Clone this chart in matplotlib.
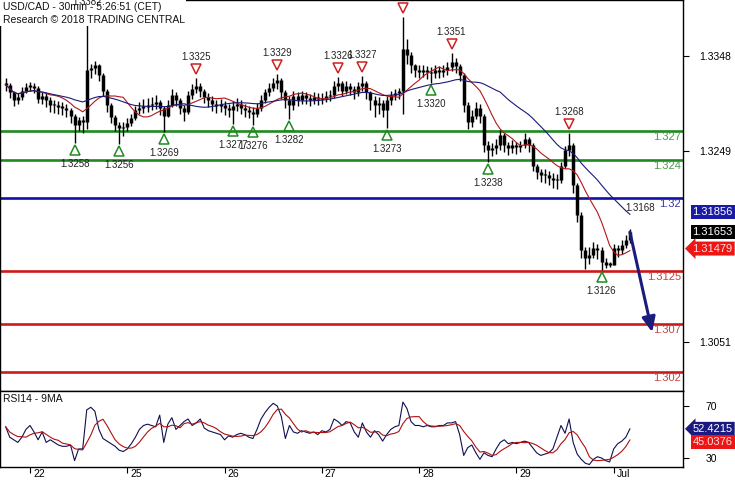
import numpy as np
import pandas as pd
import matplotlib
matplotlib.use('Agg')
import matplotlib.pyplot as plt
import matplotlib.transforms as mtransforms

plt.rcParams['font.family'] = ['Liberation Sans', 'DejaVu Sans']

# ---------------- data (hourly bars, hour 0 = start of 22 Jun) ----------------
start_hour = -6
closes = [1.3318, 1.3310, 1.3302, 1.3305, 1.3312, 1.3316,
          1.3317, 1.3315, 1.3303, 1.3306, 1.3302, 1.3297, 1.3297, 1.3295, 1.3294, 1.3292, 1.3286, 1.3276,
          1.3281, 1.3279, 1.3333, 1.3335, 1.3338, 1.3328, 1.3312, 1.3297, 1.3284, 1.3276, 1.3273, 1.3274,
          1.3278, 1.3283, 1.3292, 1.3294, 1.3295, 1.3297, 1.3298, 1.3300, 1.3294, 1.3286, 1.3297, 1.3307,
          1.3302, 1.3294, 1.3290, 1.3307, 1.3314, 1.3317, 1.3312, 1.3305, 1.3302, 1.3298, 1.3296, 1.3297,
          1.3294, 1.3292, 1.3296, 1.3298, 1.3294, 1.3292, 1.3290, 1.3288, 1.3294, 1.3302, 1.3310, 1.3315,
          1.3320, 1.3323, 1.3310, 1.3302, 1.3297, 1.3306, 1.3302, 1.3307, 1.3304, 1.3302, 1.3305, 1.3303,
          1.3304, 1.3306, 1.3307, 1.3317, 1.3320, 1.3312, 1.3317, 1.3314, 1.3310, 1.3317, 1.3320, 1.3310,
          1.3302, 1.3297, 1.3299, 1.3292, 1.3302, 1.3307, 1.3309, 1.3312, 1.3355, 1.3349, 1.3338, 1.3333,
          1.3331, 1.3333, 1.3331, 1.3330, 1.3333, 1.3331, 1.3333, 1.3336, 1.3342, 1.3337, 1.3328, 1.3297,
          1.3279, 1.3286, 1.3294, 1.3286, 1.3255, 1.3250, 1.3252, 1.3255, 1.3266, 1.3255, 1.3252, 1.3255,
          1.3253, 1.3255, 1.3262, 1.3255, 1.3234, 1.3227, 1.3224, 1.3224, 1.3221, 1.3219, 1.3219, 1.3234,
          1.3250, 1.3255, 1.3214, 1.3183, 1.3146, 1.3138, 1.3141, 1.3148, 1.3146, 1.3134, 1.3131, 1.3131,
          1.3148, 1.3146, 1.3152, 1.3157, 1.3165]
highs = [1.3325, 1.3320, 1.3312, 1.3309, 1.3316, 1.3320,
         1.3321, 1.3320, 1.3317, 1.3310, 1.3309, 1.3305, 1.3302, 1.3301, 1.3300, 1.3298, 1.3294, 1.3288,
         1.3285, 1.3286, 1.3382, 1.3340, 1.3343, 1.3340, 1.3330, 1.3314, 1.3299, 1.3287, 1.3279, 1.3279,
         1.3283, 1.3288, 1.3296, 1.3300, 1.3303, 1.3304, 1.3305, 1.3307, 1.3302, 1.3296, 1.3302, 1.3314,
         1.3310, 1.3304, 1.3297, 1.3312, 1.3319, 1.3325, 1.3320, 1.3314, 1.3309, 1.3306, 1.3302, 1.3303,
         1.3301, 1.3298, 1.3301, 1.3304, 1.3302, 1.3298, 1.3296, 1.3295, 1.3299, 1.3307, 1.3314, 1.3320,
         1.3325, 1.3329, 1.3325, 1.3313, 1.3306, 1.3312, 1.3310, 1.3312, 1.3310, 1.3308, 1.3310, 1.3309,
         1.3309, 1.3311, 1.3313, 1.3322, 1.3326, 1.3322, 1.3322, 1.3320, 1.3317, 1.3321, 1.3327, 1.3322,
         1.3312, 1.3306, 1.3305, 1.3302, 1.3306, 1.3312, 1.3314, 1.3315, 1.3388, 1.3366, 1.3352, 1.3340,
         1.3338, 1.3338, 1.3337, 1.3336, 1.3338, 1.3337, 1.3338, 1.3342, 1.3351, 1.3346, 1.3340, 1.3330,
         1.3300, 1.3292, 1.3300, 1.3298, 1.3288, 1.3260, 1.3258, 1.3262, 1.3271, 1.3268, 1.3259, 1.3261,
         1.3259, 1.3260, 1.3268, 1.3264, 1.3257, 1.3236, 1.3230, 1.3230, 1.3228, 1.3226, 1.3225, 1.3238,
         1.3254, 1.3268, 1.3258, 1.3216, 1.3186, 1.3150, 1.3150, 1.3155, 1.3153, 1.3150, 1.3138, 1.3134,
         1.3153, 1.3152, 1.3157, 1.3162, 1.3168]
lows = [1.3312, 1.3304, 1.3296, 1.3298, 1.3302, 1.3309,
        1.3311, 1.3309, 1.3299, 1.3298, 1.3295, 1.3290, 1.3289, 1.3288, 1.3287, 1.3284, 1.3278, 1.3258,
        1.3270, 1.3268, 1.3272, 1.3325, 1.3329, 1.3322, 1.3306, 1.3290, 1.3278, 1.3270, 1.3256, 1.3265,
        1.3270, 1.3275, 1.3281, 1.3288, 1.3289, 1.3290, 1.3292, 1.3293, 1.3287, 1.3269, 1.3284, 1.3295,
        1.3296, 1.3288, 1.3280, 1.3288, 1.3303, 1.3309, 1.3305, 1.3299, 1.3295, 1.3291, 1.3289, 1.3290,
        1.3287, 1.3284, 1.3277, 1.3291, 1.3288, 1.3285, 1.3283, 1.3276, 1.3284, 1.3291, 1.3299, 1.3306,
        1.3311, 1.3314, 1.3303, 1.3294, 1.3282, 1.3292, 1.3296, 1.3298, 1.3298, 1.3296, 1.3298, 1.3297,
        1.3298, 1.3300, 1.3301, 1.3304, 1.3312, 1.3306, 1.3308, 1.3307, 1.3303, 1.3306, 1.3312, 1.3303,
        1.3292, 1.3284, 1.3288, 1.3284, 1.3273, 1.3297, 1.3302, 1.3303, 1.3288, 1.3340, 1.3330, 1.3326,
        1.3325, 1.3326, 1.3324, 1.3320, 1.3325, 1.3325, 1.3326, 1.3328, 1.3332, 1.3330, 1.3322, 1.3290,
        1.3272, 1.3274, 1.3282, 1.3278, 1.3248, 1.3238, 1.3244, 1.3246, 1.3250, 1.3248, 1.3245, 1.3247,
        1.3246, 1.3248, 1.3252, 1.3248, 1.3228, 1.3220, 1.3217, 1.3216, 1.3214, 1.3211, 1.3210, 1.3216,
        1.3232, 1.3244, 1.3206, 1.3176, 1.3138, 1.3127, 1.3132, 1.3138, 1.3137, 1.3126, 1.3128, 1.3129,
        1.3131, 1.3139, 1.3142, 1.3148, 1.3154]
rsi_values = [54, 46, 44, 42, 46, 52,
              55, 50, 44, 50, 42, 44, 42, 40, 39, 39, 40, 28,
              37, 37, 67, 69, 66, 52, 45, 43, 41, 39, 36, 35,
              37, 41, 46, 52, 55, 56, 55, 54, 63, 42, 56, 61,
              52, 55, 58, 60, 55, 57, 60, 53, 51, 50, 49, 48,
              44, 47, 46, 48, 49, 48, 46, 45, 52, 60, 65, 69,
              72, 70, 62, 45, 55, 50, 49, 51, 50, 49, 50, 48,
              51, 50, 52, 60, 58, 55, 58, 57, 50, 46, 57, 50,
              46, 51, 48, 43, 48, 52, 54, 55, 73, 68, 58, 55,
              55, 54, 55, 54, 54, 55, 55, 57, 57, 58, 48, 32,
              38, 40, 34, 29, 34, 32, 31, 37, 42, 44, 41, 42,
              41, 42, 43, 42, 38, 34, 32, 33, 34, 37, 46, 55,
              49, 60, 42, 33, 29, 26, 25, 29, 31, 30, 28, 27,
              37, 41, 43, 46, 52.42]

day_hours = [0, 24, 48, 72, 96, 120, 144]
day_labels = ['22', '25', '26', '27', '28', '29', 'Jul']

green_levels = [1.327, 1.324]
green_labels = ['1.327', '1.324']
blue_levels = [1.32]
blue_labels = ['1.32']
red_levels = [1.3125, 1.307, 1.302]
red_labels = ['1.3125', '1.307', '1.302']

peak_hours = [14, 41, 61, 76, 82, 92, 104, 133]
peak_values = [1.3382, 1.3325, 1.3329, 1.3326, 1.3327, 1.3388, 1.3351, 1.3268]
trough_hours = [11, 22, 33, 50, 55, 64, 88, 99, 113, 141]
trough_values = [1.3258, 1.3256, 1.3269, 1.3277, 1.3276, 1.3282, 1.3273, 1.3320, 1.3238, 1.3126]

forecast_hours = [148, 153.5]
forecast_prices = [1.3165, 1.3061]
note_hour, note_price, note_text = 150.5, 1.3190, '1.3168'

price_ticks = [1.3051, 1.3249, 1.3348]
rsi_ticks = [30, 70]
box_values = [1.31856, 1.31653, 1.31479]
rsi_box_values = [52.4215, 45.0376]

fast_period, slow_period, rsi_ma_period = 10, 25, 5

# ---------------- figure ----------------
W, H = 735, 480
fig = plt.figure(figsize=(W / 100, H / 100), dpi=100)
fig.patch.set_facecolor('white')
ax = fig.add_axes([0, 89 / H, 683 / W, 391 / H])
ax2 = fig.add_axes([0, 13 / H, 683 / W, 76 / H])

x = np.arange(len(closes)) + start_hour
c = np.array(closes)
o = np.concatenate([[c[0]], c[:-1]])
ax.vlines(x, lows, highs, color='black', lw=1.0, zorder=3)
bot = np.minimum(o, c)
top = np.maximum(o, c)
top = np.where(top - bot < 0.00015, bot + 0.00015, top)
ax.vlines(x, bot, top, color='black', lw=2.5, zorder=3)

s = pd.Series(closes)
ax.plot(x, s.rolling(fast_period, min_periods=1).mean(), color='#b01818', lw=0.8, zorder=4)
ax.plot(x, s.rolling(slow_period, min_periods=1).mean(), color='#1a1a7a', lw=0.8, zorder=4)

blend = mtransforms.blended_transform_factory(ax.transAxes, ax.transData)
below = mtransforms.offset_copy(blend, fig=fig, x=0, y=-1, units='dots')
for lv, lb in zip(green_levels, green_labels):
    ax.axhline(lv, color='#1f8a1f', lw=1.9, zorder=2)
    ax.text(0.997, lv, lb, transform=below, ha='right', va='top', color='#4a9a4a', fontsize=8)
for lv, lb in zip(blue_levels, blue_labels):
    ax.axhline(lv, color='#1010aa', lw=1.9, zorder=2)
    ax.text(0.997, lv, lb, transform=below, ha='right', va='top', color='#3838a8', fontsize=8)
for lv, lb in zip(red_levels, red_labels):
    ax.axhline(lv, color='#cc1a1a', lw=1.9, zorder=2)
    ax.text(0.997, lv, lb, transform=below, ha='right', va='top', color='#c84040', fontsize=8)

# peak / trough markers
tri_up = mtransforms.offset_copy(ax.transData, fig=fig, x=0, y=9, units='dots')
lab_up = mtransforms.offset_copy(ax.transData, fig=fig, x=0, y=21, units='dots')
tri_dn = mtransforms.offset_copy(ax.transData, fig=fig, x=0, y=-7, units='dots')
lab_dn = mtransforms.offset_copy(ax.transData, fig=fig, x=0, y=-21, units='dots')
ax.plot(peak_hours, peak_values, ls='none', marker='v', ms=7.5, mfc='none', mec='#d02020',
        mew=1.1, transform=tri_up, zorder=5, clip_on=False)
for h, v in zip(peak_hours, peak_values):
    ax.text(h, v, f'{v:.4f}', transform=lab_up, ha='center', va='center', fontsize=7,
            color='#222222', zorder=12, clip_on=False)
ax.plot(trough_hours, trough_values, ls='none', marker='^', ms=7.5, mfc='none', mec='#208a20',
        mew=1.1, transform=tri_dn, zorder=5)
for h, v in zip(trough_hours, trough_values):
    ax.text(h, v, f'{v:.4f}', transform=lab_dn, ha='center', va='center', fontsize=7,
            color='#222222', zorder=6)

ax.text(note_hour, note_price, note_text, ha='center', va='center', fontsize=7, color='#222222')
ax.annotate('', xy=(forecast_hours[1], forecast_prices[1]), xytext=(forecast_hours[0], forecast_prices[0]),
            arrowprops=dict(arrowstyle='-|>,head_length=0.9,head_width=0.4', color='#1c1c7c', lw=2.2,
                            shrinkA=0, shrinkB=0), zorder=7)

# title block
ax.add_patch(plt.Rectangle((0, 1 - 26 / 391), 186 / 683, 26 / 391, transform=ax.transAxes,
                           facecolor='white', edgecolor='none', zorder=10))
ax.text(3 / 683, 1 - 7 / 391, 'USD/CAD - 30min - 5:26:51 (CET)', transform=ax.transAxes,
        ha='left', va='center', fontsize=7.5, color='#111111', zorder=11)
ax.text(3 / 683, 1 - 20 / 391, 'Research © 2018 TRADING CENTRAL', transform=ax.transAxes,
        ha='left', va='center', fontsize=7.5, color='#111111', zorder=11)

xlim = (-7.4, 161.1)
ax.set_xlim(*xlim)
ax.set_ylim(1.3000, 1.3406)
ax.set_xticks([])
ax.yaxis.tick_right()
ax.set_yticks(price_ticks)
ax.set_yticklabels([f'{t:.4f}' for t in price_ticks])
ax.tick_params(axis='y', direction='out', length=4, width=0.8, pad=8, labelsize=7.5)

# value boxes
box_colors = [('#1a1aa8', 'white', 'square,pad=0.18'),
              ('black', 'white', 'square,pad=0.18'),
              ('#ee1515', '#ffe0e0', 'larrow,pad=0.18')]
for v, (fc, tc, bs) in zip(box_values, box_colors):
    ax.text(1.014, v, f'{v:.5f}', transform=blend, ha='left', va='center', fontsize=8, color=tc,
            bbox=dict(boxstyle=bs, fc=fc, ec='none'), clip_on=False, zorder=20)

for sp in ax.spines.values():
    sp.set_color('black')
    sp.set_linewidth(1)

# ---------------- RSI panel ----------------
r = pd.Series(rsi_values)
ax2.plot(x, rsi_values, color='#101050', lw=0.8)
ax2.plot(x, r.rolling(rsi_ma_period, min_periods=1).mean(), color='#b01010', lw=0.8)
ax2.set_xlim(*xlim)
ax2.set_ylim(23.1, 81.5)
ax2.yaxis.tick_right()
ax2.set_yticks(rsi_ticks)
ax2.tick_params(axis='y', direction='out', length=4, width=0.8, pad=12, labelsize=7.5)
ax2.set_xticks(day_hours)
ax2.set_xticklabels(day_labels)
ax2.tick_params(axis='x', direction='out', length=4, width=0.8, pad=-2.5, labelsize=7.5)
off = mtransforms.ScaledTranslation(3 / 100, 0, fig.dpi_scale_trans)
for lab in ax2.get_xticklabels():
    lab.set_ha('left')
    lab.set_transform(lab.get_transform() + off)
ax2.text(3 / 683, 1 - 8 / 76, 'RSI14 - 9MA', transform=ax2.transAxes, ha='left', va='center',
         fontsize=7.5, color='#111111')
blend2 = mtransforms.blended_transform_factory(ax2.transAxes, ax2.transData)
rsi_box_styles = [('#1a1a80', 'white', 'larrow,pad=0.18', 0), ('#ee1515', '#ffe0e0', 'square,pad=0.18', -4)]
for v, (fc, tc, bs, dy) in zip(rsi_box_values, rsi_box_styles):
    tr = mtransforms.offset_copy(blend2, fig=fig, x=0, y=dy, units='dots')
    ax2.text(1.014, v, f'{v:.4f}', transform=tr, ha='left', va='center', fontsize=8, color=tc,
             bbox=dict(boxstyle=bs, fc=fc, ec='none'), clip_on=False, zorder=20)
for sp in ax2.spines.values():
    sp.set_color('black')
    sp.set_linewidth(1)

fig.savefig('out.png', dpi=100, facecolor='white')
